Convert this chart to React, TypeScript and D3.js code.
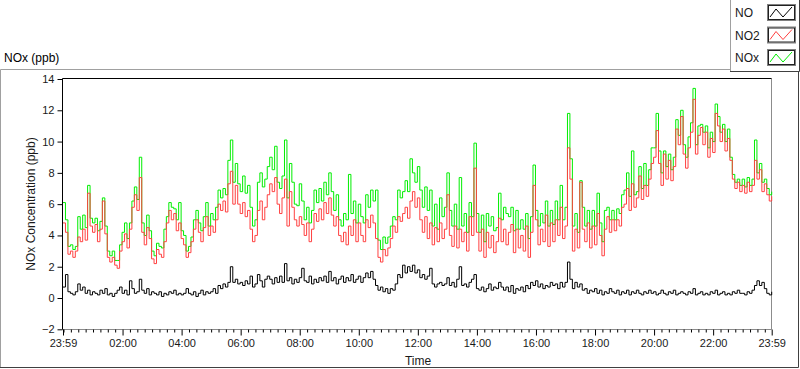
import React, { useEffect, useRef } from "react";
import * as d3 from "d3";

// 5-minute readings starting at 23:59, one row per hour
const START_MIN = -1;
const STEP_MIN = 5;

const NO = [
  0.7, 1.5, 0.4, 0.3, 0.2, 0.4, 0.9, 0.5, 0.7, 0.3, 0.5, 0.2,
  0.4, 0.3, 0.2, 0.5, 0.3, 0.6, 0.2, 0.3, 0.1, 0.3, 0.5, 0.7,
  0.3, 0.5, 0.2, 1.1, 0.6, 0.3, 0.4, 1.2, 0.5, 0.3, 0.6, 0.2,
  0.4, 0.3, 0.2, 0.4, 0.1, 0.3, 0.2, 0.4, 0.3, 0.5, 0.2, 0.3,
  0.2, 0.3, 0.6, 0.3, 0.2, 0.4, 0.1, 0.3, 0.5, 0.2, 0.4, 0.3,
  0.4, 0.6, 0.3, 0.8, 0.6, 0.9, 0.7, 1.0, 2.0, 1.0, 1.2, 0.9,
  1.0, 0.8, 1.1, 0.9, 1.4, 0.7, 0.9, 1.5, 1.1, 0.7, 1.2, 1.4,
  1.2, 0.9, 1.3, 1.0, 1.4, 1.0, 2.2, 1.1, 1.3, 0.9, 1.2, 1.0,
  1.3, 1.9, 1.1, 1.0, 1.4, 0.9, 1.2, 1.0, 1.3, 1.1, 1.4, 1.0,
  1.7, 1.1, 1.3, 0.9, 1.2, 1.4, 1.0, 1.3, 1.1, 1.5, 1.0, 1.2,
  1.4, 1.0, 1.3, 1.6, 1.3, 1.7, 1.2, 0.8, 0.5, 0.7, 0.4, 0.6,
  0.3, 0.6, 0.5, 0.9, 1.5, 1.3, 2.1, 1.6, 2.0, 1.7, 2.1, 1.6,
  1.8, 1.3, 1.5, 1.2, 1.4, 1.9, 0.9, 0.7, 0.9, 1.0, 0.8, 0.9,
  1.3, 0.8, 1.0, 0.7, 1.2, 2.0, 0.8, 0.9, 0.7, 1.0, 1.2, 1.5,
  0.6, 0.5, 0.7, 0.4, 0.6, 0.9, 0.5, 0.7, 0.6, 1.0, 0.7, 0.5,
  0.7, 0.4, 0.8, 0.3, 0.6, 0.5, 0.7, 0.4, 0.8, 0.6, 1.0, 0.8,
  1.1, 0.7, 0.9, 0.6, 0.8, 0.7, 1.0, 0.8, 0.9, 0.6, 1.0, 0.7,
  1.0, 2.3, 1.2, 0.6, 1.0, 0.7, 0.9, 0.5, 0.6, 0.3, 0.5, 0.4,
  0.6, 0.3, 0.5, 0.2, 0.4, 0.3, 0.6, 0.4, 0.3, 0.5, 0.2, 0.4,
  0.3, 0.5, 0.2, 0.4, 0.3, 0.5, 0.3, 0.2, 0.4, 0.3, 0.5, 0.3,
  0.4, 0.2, 0.3, 0.5, 0.3, 0.2, 0.4, 0.3, 0.5, 0.2, 0.3, 0.4,
  0.3, 0.2, 0.4, 0.3, 0.6, 0.2, 0.3, 0.4, 0.2, 0.3, 0.2, 0.4,
  0.3, 0.5, 0.2, 0.3, 0.4, 0.2, 0.3, 0.2, 0.4, 0.3, 0.5, 0.3,
  0.3, 0.2, 0.4, 0.3, 0.5, 0.8, 1.1, 0.8, 1.0, 0.6, 0.3, 0.2, 0.4,
];

const NO2 = [
  4.8, 4.2, 2.8, 3.0, 2.6, 3.0, 3.9, 3.6, 4.4, 3.7, 6.7, 4.6,
  4.2, 4.7, 3.6, 4.4, 6.2, 4.1, 2.6, 2.3, 2.6, 2.1, 1.9, 3.0,
  3.6, 4.1, 3.2, 4.4, 5.8, 6.6, 5.6, 7.7, 4.2, 3.4, 4.5, 3.8,
  2.5, 2.2, 3.1, 2.8, 2.6, 3.6, 4.8, 5.6, 5.0, 5.4, 4.3, 4.8,
  3.8, 3.4, 2.6, 2.9, 3.6, 4.4, 5.0, 4.2, 3.6, 4.5, 5.2, 4.0,
  4.6, 4.2, 5.0, 6.0, 5.6, 6.2, 5.5, 7.3, 8.1, 6.0, 7.2, 6.0,
  5.4, 6.1, 5.2, 5.6, 4.4, 3.6, 4.0, 5.6, 6.2, 5.0, 5.8, 6.6,
  7.3, 6.8, 7.7, 6.0, 5.4, 6.4, 7.6, 4.6, 6.8, 5.8, 5.0, 4.6,
  5.2, 4.7, 4.0, 4.8, 3.6, 4.4, 5.4, 4.9, 5.7, 5.0, 6.1, 5.4,
  6.4, 5.3, 4.6, 5.2, 4.0, 3.6, 4.2, 3.4, 4.6, 4.0, 5.0, 3.6,
  4.8, 4.0, 3.6, 5.0, 4.5, 5.3, 4.8, 3.8, 2.6, 2.3, 3.1, 2.7,
  3.2, 3.8, 4.6, 4.2, 5.2, 4.9, 5.4, 5.8, 5.1, 6.2, 6.8, 5.8,
  6.4, 5.0, 4.2, 5.2, 3.8, 4.8, 3.4, 4.5, 3.6, 4.8, 3.8, 4.4,
  6.6, 4.0, 3.3, 4.6, 3.2, 4.4, 3.6, 4.2, 3.0, 5.2, 4.0, 8.3,
  4.2, 3.0, 4.4, 2.6, 4.2, 3.2, 4.0, 2.9, 3.6, 5.1, 3.6, 4.4,
  3.4, 4.2, 4.7, 2.9, 4.4, 3.2, 4.0, 3.0, 4.6, 2.6, 4.2, 7.2,
  5.0, 3.4, 4.4, 3.6, 5.3, 3.3, 4.8, 3.6, 5.0, 4.0, 5.8, 3.8,
  4.6, 9.6, 7.6, 3.0, 4.4, 3.2, 7.4, 4.4, 3.6, 4.8, 3.2, 4.6,
  3.4, 5.4, 4.0, 2.7, 4.4, 5.2, 4.2, 5.0, 4.3, 5.0, 4.6, 5.8,
  6.0, 7.0, 5.6, 7.3, 5.8, 6.4, 7.8, 6.3, 7.2, 6.5, 7.6, 8.6,
  9.0, 10.7, 8.6, 7.2, 9.2, 7.6, 8.8, 7.5, 8.4, 10.8, 9.8, 11.6,
  9.2, 8.3, 9.6, 10.6, 12.7, 9.2, 10.4, 10.9, 9.8, 10.6, 9.0, 10.2,
  9.3, 11.8, 11.0, 10.0, 10.8, 9.4, 10.2, 8.8, 7.6, 7.0, 7.4, 6.8,
  7.2, 6.7, 7.4, 6.8, 7.2, 8.8, 7.6, 8.2, 6.8, 7.3, 6.6, 6.2, 6.5,
];

const NOX = [
  6.1, 5.0, 3.3, 3.4, 3.1, 3.3, 5.2, 4.4, 5.3, 4.5, 7.2, 5.1,
  4.8, 5.1, 4.3, 4.9, 6.4, 4.6, 3.0, 2.7, 3.0, 2.4, 2.4, 3.4,
  4.2, 4.8, 3.8, 4.8, 6.2, 7.1, 6.3, 9.0, 4.8, 4.0, 5.3, 4.3,
  3.0, 2.7, 3.5, 3.3, 3.2, 4.4, 5.2, 6.1, 5.8, 5.7, 5.0, 6.1,
  4.3, 4.0, 3.0, 3.3, 3.9, 5.0, 5.6, 4.8, 4.3, 5.2, 6.1, 4.6,
  5.4, 5.0, 5.8, 6.9, 6.4, 7.0, 6.6, 8.8, 10.1, 7.4, 8.6, 7.3,
  6.8, 7.8, 6.7, 7.2, 5.8, 4.6, 5.0, 7.4, 8.0, 7.1, 7.6, 8.4,
  9.0, 8.2, 9.7, 7.4, 7.0, 7.8, 10.1, 6.4, 8.6, 7.4, 6.0, 5.9,
  7.3, 6.2, 5.0, 5.8, 4.8, 5.6, 6.9, 6.1, 7.0, 6.2, 7.4, 6.6,
  8.0, 6.8, 5.6, 6.6, 5.0, 4.6, 5.4, 5.0, 7.9, 5.4, 6.2, 4.8,
  6.0, 5.2, 4.8, 6.6, 5.8, 6.9, 6.2, 6.9, 3.7, 3.1, 3.9, 3.5,
  3.9, 4.6, 5.2, 5.0, 6.9, 6.4, 6.8, 7.5, 6.8, 8.9, 8.0, 7.4,
  8.4, 6.9, 5.8, 7.1, 5.6, 6.9, 4.6, 6.0, 4.4, 6.4, 5.2, 5.8,
  8.0, 5.6, 4.6, 6.0, 4.4, 7.7, 4.6, 5.4, 4.2, 6.1, 5.2, 9.9,
  5.4, 4.2, 5.3, 3.6, 5.4, 4.6, 5.2, 4.3, 4.5, 6.7, 5.0, 5.8,
  5.4, 5.2, 5.8, 4.3, 5.6, 4.4, 5.0, 4.4, 5.4, 3.8, 5.2, 8.5,
  5.6, 4.6, 5.4, 4.8, 6.2, 4.6, 5.6, 4.7, 6.2, 5.0, 7.2, 5.0,
  5.8, 11.8, 8.9, 4.6, 5.4, 4.2, 7.5, 5.8, 4.6, 5.6, 4.4, 5.6,
  4.6, 6.7, 4.8, 3.6, 5.6, 5.8, 5.0, 5.6, 5.0, 5.7, 5.4, 6.6,
  6.9, 8.0, 6.5, 9.4, 6.6, 6.8, 8.4, 7.0, 8.6, 7.2, 8.2, 9.6,
  9.6, 11.8, 9.4, 8.0, 9.4, 8.4, 9.2, 8.2, 9.0, 11.4, 10.4, 12.0,
  9.8, 9.0, 10.3, 11.2, 13.4, 9.8, 11.0, 11.1, 10.6, 11.0, 9.6, 10.6,
  10.0, 12.4, 11.6, 10.6, 11.1, 10.0, 10.8, 9.0, 7.9, 7.4, 7.6, 7.2,
  7.6, 7.1, 7.7, 7.2, 7.6, 10.1, 8.0, 8.6, 7.4, 7.6, 7.0, 6.6, 6.8,
];

const Y_TICKS = [-2, 0, 2, 4, 6, 8, 10, 12, 14];
const X_MAJOR = [-1, 120, 240, 360, 480, 600, 720, 840, 960, 1080, 1200, 1320, 1439];
const X_LABELS = ["23:59", "02:00", "04:00", "06:00", "08:00", "10:00", "12:00", "14:00", "16:00", "18:00", "20:00", "22:00", "23:59"];

const SERIES = [
  { name: "NO", values: NO, color: "#000000" },
  { name: "NO2", values: NO2, color: "#ff4040" },
  { name: "NOx", values: NOX, color: "#00ee00" },
];

const FONT = "'Liberation Sans', Arial, sans-serif";

const App = () => {
  const svgRef = useRef<SVGSVGElement | null>(null);

  useEffect(() => {
    const W = 800;
    const H = 369;
    const left = 62.5, right = 771.5, top = 78.5, bottom = 329.5;

    const svg = d3.select(svgRef.current);
    svg.selectAll("*").remove();
    svg.attr("width", W).attr("height", H);

    svg.append("rect").attr("width", W).attr("height", H).attr("fill", "#fff");

    const x = d3.scaleLinear().domain([-1, 1439]).range([63, 771.7]);
    const y = d3.scaleLinear().domain([-2, 14]).range([329.3, 79]);

    // outer panel frame
    svg.append("path").attr("d", `M0.5,368 V69.5 H799`).attr("fill", "none").attr("stroke", "#a0a0a0");
    svg.append("path").attr("d", `M0,367.5 H798.5 V69`).attr("fill", "none").attr("stroke", "#404040");

    svg.append("text")
      .attr("x", 4).attr("y", 62)
      .attr("font-family", FONT).attr("font-size", 12).attr("fill", "#000")
      .text("NOx (ppb)");

    // plot frame
    svg.append("path").attr("d", `M${right},${top} V${bottom} H${left}`).attr("fill", "none").attr("stroke", "#8c8c8c");
    svg.append("path").attr("d", `M${left},${bottom} V${top} H${right}`).attr("fill", "none").attr("stroke", "#000");

    // y axis
    const yAxis = svg.append("g")
      .attr("transform", `translate(${left},0)`)
      .call(d3.axisLeft(y).tickValues(Y_TICKS).tickSize(5).tickPadding(3).tickFormat(d3.format("d")));
    yAxis.select(".domain").remove();
    yAxis.selectAll("text").attr("font-family", FONT).attr("font-size", 11).attr("fill", "#1a1a1a");
    yAxis.selectAll("line").attr("stroke", "#000");

    // x axis minor ticks every 15 minutes
    const minor = d3.range(0, 1440, 15).filter((m) => m % 120 !== 0 || m === 0);
    const xMinor = svg.append("g")
      .attr("transform", `translate(0,${bottom})`)
      .call(d3.axisBottom(x).tickValues(minor).tickSize(3).tickFormat(() => ""));
    xMinor.select(".domain").remove();
    xMinor.selectAll("line").attr("stroke", "#000");

    const xAxis = svg.append("g")
      .attr("transform", `translate(0,${bottom})`)
      .call(d3.axisBottom(x).tickValues(X_MAJOR).tickSize(6).tickPadding(4)
        .tickFormat((d, i) => X_LABELS[i]));
    xAxis.select(".domain").remove();
    xAxis.selectAll("line").attr("stroke", "#000");
    xAxis.selectAll("text").attr("font-family", FONT).attr("font-size", 11).attr("fill", "#1a1a1a");

    // axis titles
    svg.append("text")
      .attr("transform", `translate(35,204) rotate(-90)`)
      .attr("text-anchor", "middle")
      .attr("font-family", FONT).attr("font-size", 12).attr("fill", "#1a1a1a")
      .text("NOx Concentration (ppb)");
    svg.append("text")
      .attr("x", 418).attr("y", 365)
      .attr("text-anchor", "middle")
      .attr("font-family", FONT).attr("font-size", 12).attr("fill", "#1a1a1a")
      .text("Time");

    // lines: NOx first, NO2 on top of it, NO last (stepped, like the instrument trace)
    const line = d3.line<number>()
      .x((d, i) => x(START_MIN + i * STEP_MIN))
      .y((d) => y(d))
      .curve(d3.curveStepAfter);

    const plot = svg.append("g");
    [SERIES[2], SERIES[1], SERIES[0]].forEach((s) => {
      plot.append("path")
        .datum(s.values)
        .attr("fill", "none")
        .attr("stroke", s.color)
        .attr("stroke-width", 1)
        .attr("d", line);
    });

    // legend
    const lg = svg.append("g");
    lg.append("rect").attr("x", 730).attr("y", -1).attr("width", 70).attr("height", 73).attr("fill", "#fff");
    lg.append("path").attr("d", "M730.5,0 V72").attr("stroke", "#a0a0a0").attr("fill", "none");
    lg.append("path").attr("d", "M730,71.5 H799.5 V0").attr("stroke", "#404040").attr("fill", "none");

    SERIES.forEach((s, i) => {
      const top0 = 4 + i * 22.5;
      lg.append("text")
        .attr("x", 735).attr("y", top0 + 13)
        .attr("font-family", FONT).attr("font-size", 12).attr("fill", "#1a1a1a")
        .text(s.name);
      lg.append("rect")
        .attr("x", 767.5).attr("y", top0 + 0.5).attr("width", 28).attr("height", 16)
        .attr("fill", "#fff").attr("stroke", "#808080");
      lg.append("rect")
        .attr("x", 768.5).attr("y", top0 + 1.5).attr("width", 26).attr("height", 14)
        .attr("fill", "none").attr("stroke", "#202020");
      lg.append("path")
        .attr("d", `M770,${top0 + 13} L776,${top0 + 5} L783,${top0 + 13} L792,${top0 + 3}`)
        .attr("fill", "none").attr("stroke", s.color).attr("stroke-width", 1);
    });
  }, []);

  return (
    <div style={{ position: "absolute", left: 0, top: 0 }}>
      <svg ref={svgRef} style={{ display: "block" }}></svg>
    </div>
  );
};

export default App;
